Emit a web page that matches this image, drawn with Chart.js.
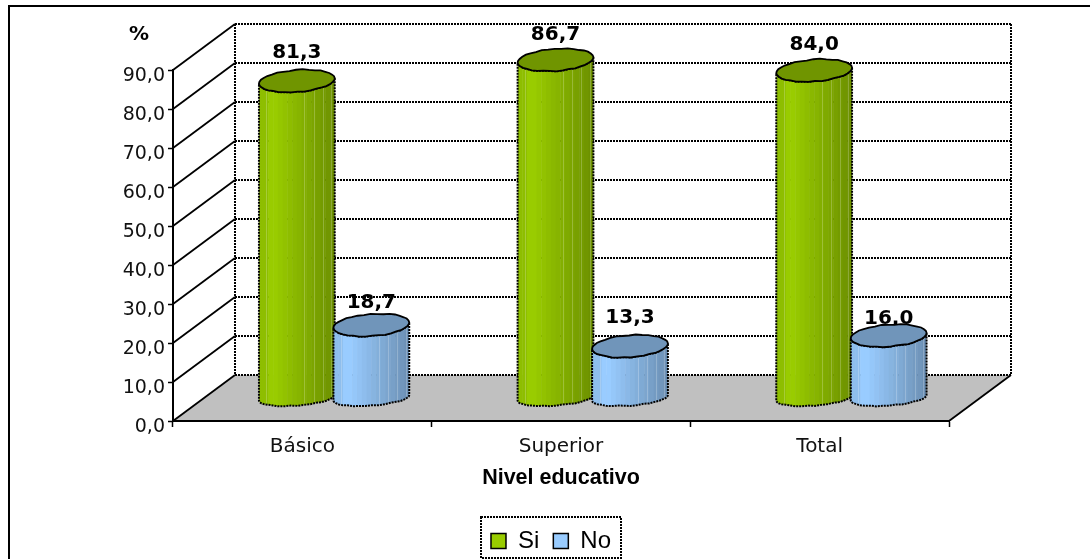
<!DOCTYPE html>
<html lang="es">
<head>
<meta charset="utf-8">
<title>Nivel educativo</title>
<style>
  html, body { margin: 0; padding: 0; background: #fff; }
  canvas { display: block; }
</style>
<script src="https://cdn.jsdelivr.net/npm/chart.js@4/dist/chart.umd.min.js"></script>
</head>
<body>
<canvas id="chart" width="1090" height="559"></canvas>
<script>
// Chart values
const categories = ['Básico', 'Superior', 'Total'];
const siValues = [81.3, 86.7, 84.0];
const noValues = [18.7, 13.3, 16.0];
const yMin = 0;
const yMax = 90;
const yStep = 10;

// Pseudo-3D box: the walls sit one full depth behind the axes, the cylinders half way.
const DEPTH_X = 62;
const DEPTH_Y = -46;
const TEXT_FONT = '"DejaVu Sans", sans-serif';
const ARIAL_FONT = '"Liberation Sans", sans-serif';
const DASH = [2, 1];

// The first cylinder of each pair leans slightly into the second.
const PAIR_OVERLAP = [1.5, 0];

// How far each value label sits above the centre of its cylinder top.
const labelLift = [[28, 25, 26], [22, 28, 17]];

// Small vertical jitter along the rims, which gives the cylinders their hand-cut outline.
const RIM_JITTER = [0, 0.4, -0.3, 0.3, 0.5, -0.2, -0.45, 0.2, 0.35, -0.35, 0.15];

const comma = v => Number(v).toFixed(1).replace('.', ',');

function shade(hex, f) {
  const n = parseInt(hex.slice(1), 16);
  const c = [n >> 16 & 255, n >> 8 & 255, n & 255].map(v => Math.round(v * f));
  return `rgb(${c[0]},${c[1]},${c[2]})`;
}

// Point on a tilted ellipse, sampled coarsely so the outline has a faceted look.
function rimPoint(cx, cy, a, b, t, seed, i) {
  const tilt = -0.075;
  const ex = a * Math.cos(t), ey = b * Math.sin(t);
  const jitter = RIM_JITTER[(i + seed) % RIM_JITTER.length];
  return [cx + ex * Math.cos(tilt) - ey * Math.sin(tilt),
          cy + ex * Math.sin(tilt) + ey * Math.cos(tilt) + jitter * Math.abs(Math.sin(t))];
}

class CylinderElement extends Chart.BarElement {
  static id = 'cylinder';

  draw(ctx) {
    const { x, y, base, width } = this.getProps(['x', 'y', 'base', 'width'], true);
    const color = this.options.backgroundColor;
    const cx = x + DEPTH_X / 2 + (this.pairShift || 0);
    const topY = y + DEPTH_Y / 2;
    const botY = base + DEPTH_Y / 2 + 0.5;
    const a = width / 2;
    const left = cx - a;
    const STEPS = 18;
    const seed = Math.round(cx) % 11;

    const body = new Path2D();
    for (let i = 0; i <= STEPS; i++) {           // top rim, right to left along the front
      const p = rimPoint(cx, topY, a, 11, Math.PI * i / STEPS, seed, i);
      i ? body.lineTo(p[0], p[1]) : body.moveTo(p[0], p[1]);
    }
    for (let i = STEPS; i >= 0; i--) {           // bottom rim, left to right
      const p = rimPoint(cx, botY, a, 7.5, Math.PI * i / STEPS, seed + 3, i);
      body.lineTo(p[0], p[1]);
    }
    body.closePath();

    // Vertical shading bands across the body
    ctx.save();
    ctx.clip(body);
    const BANDS = 16;
    for (let i = 0; i < BANDS; i++) {
      const f = i / (BANDS - 1);
      const k = f < 0.09 ? 0.93 : (f < 0.2 ? 1 : 1 - (f - 0.2) * 0.36);
      ctx.fillStyle = shade(color, k);
      ctx.fillRect(left + width * i / BANDS, topY - 20, width / BANDS + 0.5, botY - topY + 40);
    }
    ctx.strokeStyle = 'rgba(255,255,255,0.22)';
    ctx.lineWidth = 1;
    [0.1, 0.6, 0.72, 0.84, 0.95].forEach(f => {
      const lx = Math.round(left + width * f) + 0.5;
      ctx.beginPath();
      ctx.moveTo(lx, topY - 20);
      ctx.lineTo(lx, botY + 20);
      ctx.stroke();
    });
    ctx.restore();

    ctx.strokeStyle = '#000';
    ctx.lineWidth = 2;
    ctx.setLineDash(DASH);
    ctx.stroke(body);
    ctx.setLineDash([]);

    // Top cap
    const cap = new Path2D();
    for (let i = 0; i < STEPS * 2; i++) {
      const p = rimPoint(cx, topY, a, 11, Math.PI * i / STEPS, seed, i);
      i ? cap.lineTo(p[0], p[1]) : cap.moveTo(p[0], p[1]);
    }
    cap.closePath();
    ctx.fillStyle = shade(color, 0.73);
    ctx.fill(cap);
    ctx.lineWidth = 1.8;
    ctx.stroke(cap);
  }
}

class CylinderController extends Chart.BarController {
  static id = 'cylinder';
  static defaults = { ...Chart.BarController.defaults, dataElementType: 'cylinder' };

  updateElements(bars, start, count, mode) {
    super.updateElements(bars, start, count, mode);
    bars.forEach(bar => { bar.pairShift = PAIR_OVERLAP[this.index]; });
  }
}

Chart.register(CylinderElement, CylinderController);

// Outer frame, walls, floor and wall grid, all placed from the chart's scales.
const boxPlugin = {
  id: 'box3d',
  beforeDraw(chart) {
    const { ctx, scales: { x, y } } = chart;
    const l = x.left, r = x.right, b = y.bottom, t = y.top;
    ctx.save();
    ctx.fillStyle = '#fff';
    ctx.fillRect(0, 0, chart.width, chart.height);

    // Frame around the figure
    ctx.strokeStyle = '#000';
    ctx.lineWidth = 2;
    ctx.beginPath();
    ctx.moveTo(9, chart.height);
    ctx.lineTo(9, 6);
    ctx.lineTo(chart.width, 6);
    ctx.stroke();

    // Floor
    ctx.fillStyle = '#c0c0c0';
    ctx.beginPath();
    ctx.moveTo(l, b);
    ctx.lineTo(r, b);
    ctx.lineTo(r + DEPTH_X, b + DEPTH_Y);
    ctx.lineTo(l + DEPTH_X, b + DEPTH_Y);
    ctx.closePath();
    ctx.fill();

    // Back wall: one dashed line per tick, plus a slanted run on the side wall
    y.ticks.forEach(tick => {
      const py = Math.round(y.getPixelForValue(tick.value));
      ctx.lineWidth = 1.8;
      ctx.setLineDash([]);
      ctx.beginPath();
      ctx.moveTo(l, py);
      ctx.lineTo(l + DEPTH_X, py + DEPTH_Y);
      ctx.stroke();
      ctx.lineWidth = 2;
      ctx.setLineDash(DASH);
      ctx.beginPath();
      ctx.moveTo(l + DEPTH_X, py + DEPTH_Y);
      ctx.lineTo(r + DEPTH_X, py + DEPTH_Y);
      ctx.stroke();
    });
    ctx.lineWidth = 2;
    ctx.beginPath();
    ctx.moveTo(l + DEPTH_X, t + DEPTH_Y);
    ctx.lineTo(l + DEPTH_X, b + DEPTH_Y);
    ctx.moveTo(r + DEPTH_X, t + DEPTH_Y);
    ctx.lineTo(r + DEPTH_X, b + DEPTH_Y);
    ctx.stroke();

    // Right-hand edge of the floor
    ctx.setLineDash([]);
    ctx.lineWidth = 1.8;
    ctx.beginPath();
    ctx.moveTo(r, b);
    ctx.lineTo(r + DEPTH_X, b + DEPTH_Y);
    ctx.stroke();
    ctx.restore();
  },
  afterLayout(chart) {
    // Legend centred on x = 551, with room on both sides so its row stays whole
    const lg = chart.legend;
    lg.left = 431;
    lg.right = 671;
    lg.top = 515;
    lg.bottom = 558;
  },
  beforeDatasetsDraw(chart) {
    // Value labels go first so a cylinder top can overlap its own label
    const { ctx } = chart;
    ctx.save();
    ctx.font = 'bold 20px ' + TEXT_FONT;
    ctx.fillStyle = '#000';
    ctx.textAlign = 'center';
    ctx.textBaseline = 'middle';
    chart.data.datasets.forEach((ds, di) => {
      chart.getDatasetMeta(di).data.forEach((el, i) => {
        ctx.fillText(comma(ds.data[i]), el.x + DEPTH_X / 2 + PAIR_OVERLAP[di], el.y + DEPTH_Y / 2 - labelLift[di][i]);
      });
    });
    ctx.restore();
  },
  beforeDatasetDraw(chart, args) {
    // The second series is painted last so its cylinders sit in front of the first
    if (args.index === 1) return false;
  },
  afterDatasetsDraw(chart) {
    chart.getDatasetMeta(1).controller.draw();
  },
  afterDraw(chart) {
    const { ctx } = chart;
    ctx.save();
    // Legend frame
    ctx.strokeStyle = '#000';
    ctx.lineWidth = 2;
    ctx.setLineDash(DASH);
    ctx.strokeRect(481, 517, 140, 41);
    ctx.setLineDash([]);
    // Unit marker above the value axis
    ctx.font = 'bold 20px ' + TEXT_FONT;
    ctx.fillStyle = '#000';
    ctx.textAlign = 'center';
    ctx.textBaseline = 'middle';
    ctx.fillText('%', 139, 35);
    ctx.restore();
  }
};

new Chart(document.getElementById('chart'), {
  type: 'cylinder',
  data: {
    labels: categories,
    datasets: [
      { label: 'Si', data: siValues, clip: false, backgroundColor: '#99CC00', borderColor: '#000', borderWidth: 1.5 },
      { label: 'No', data: noValues, clip: false, backgroundColor: '#99CCFF', borderColor: '#000', borderWidth: 1.5 }
    ]
  },
  plugins: [boxPlugin],
  options: {
    responsive: false,
    animation: false,
    events: [],
    categoryPercentage: 0.5876,
    barPercentage: 1,
    layout: { padding: { left: 0, right: 141, top: 70, bottom: 0 } },
    plugins: {
      tooltip: { enabled: false },
      title: { display: false },
      legend: {
        position: 'bottom',
        labels: {
          boxWidth: 15,
          boxHeight: 15,
          padding: 14,
          color: '#000',
          font: { family: ARIAL_FONT, size: 24 }
        }
      }
    },
    scales: {
      x: {
        afterFit(s) { s.height = 90; },
        border: { color: '#000', width: 2, dash: DASH },
        grid: { drawOnChartArea: false, color: '#000', tickLength: 6, tickWidth: 1.5 },
        ticks: { color: '#111', padding: 8, maxRotation: 0, font: { family: TEXT_FONT, size: 20 } },
        title: {
          display: true,
          text: 'Nivel educativo',
          color: '#000',
          font: { family: ARIAL_FONT, size: 21.5, weight: 'bold' },
          padding: { top: 8, bottom: 20 }
        }
      },
      y: {
        min: yMin,
        max: yMax,
        afterFit(s) { s.width = 173; },
        border: { color: '#000', width: 2, dash: DASH },
        grid: { drawOnChartArea: false, color: '#000', tickLength: 5, tickWidth: 1.5 },
        ticks: {
          stepSize: yStep,
          color: '#111',
          padding: 3,
          labelOffset: 6,
          font: { family: TEXT_FONT, size: 19 },
          callback: v => comma(v)
        }
      }
    }
  }
});
</script>
</body>
</html>
